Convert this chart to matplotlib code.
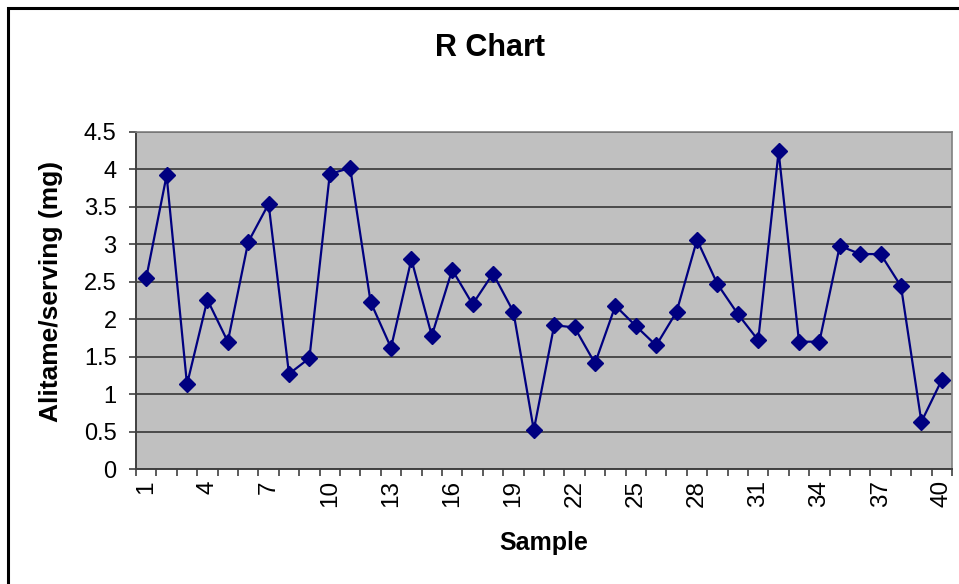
import matplotlib
matplotlib.use("Agg")
import matplotlib.pyplot as plt
from matplotlib.patches import Rectangle
import numpy as np

samples = list(range(1, 41))
r_values = [2.55, 3.92, 1.13, 2.26, 1.70, 3.03, 3.54, 1.27, 1.48, 3.94,
            4.02, 2.23, 1.62, 2.80, 1.78, 2.66, 2.20, 2.61, 2.10, 0.52,
            1.92, 1.89, 1.41, 2.18, 1.91, 1.65, 2.10, 3.06, 2.47, 2.07,
            1.72, 4.24, 1.70, 1.70, 2.98, 2.87, 2.87, 2.44, 0.63, 1.19]
x_labels = list(range(1, 41, 3))
y_ticks = [0, 0.5, 1, 1.5, 2, 2.5, 3, 3.5, 4, 4.5]

plt.rcParams['font.family'] = ['Liberation Sans', 'DejaVu Sans']

W, H = 959, 584
fig = plt.figure(figsize=(W / 100, H / 100), dpi=100)

# marco exterior del gráfico
fig.patches.append(Rectangle((7.5 / W, -0.1), 1.2, 1 - 7.5 / H + 0.1,
                             transform=fig.transFigure, fill=False,
                             edgecolor='black', linewidth=2.2))

ax = fig.add_axes([136 / W, (H - 469) / H, 816 / W, 337 / H])
ax.set_facecolor('#C0C0C0')

ax.plot(samples, r_values, color='#000080', linewidth=1.6,
        marker='D', markersize=8, markerfacecolor='#000080',
        markeredgecolor='#000080', zorder=3)

ax.set_xlim(0.5, 40.5)
ax.set_ylim(0, 4.5)

# eje Y
ax.set_yticks(y_ticks)
ax.set_yticklabels([f"{v:g}" for v in y_ticks], fontsize=17)
ax.yaxis.grid(True, color='#4a4a4a', linewidth=1.4)
ax.set_axisbelow(True)

# eje X: marcas entre categorías, etiquetas cada 3
ax.set_xticks(np.arange(0.5, 41, 1))
ax.set_xticklabels([])
ax.set_xticks(x_labels, minor=True)
ax.set_xticklabels([str(v) for v in x_labels], minor=True, rotation=90,
                   fontsize=17.5)
ax.tick_params(axis='x', which='minor', length=0, pad=8)
ax.tick_params(axis='both', which='major', length=5, width=1.2,
               color='#404040', direction='out')
ax.tick_params(axis='y', pad=9)

for side in ['top', 'right']:
    ax.spines[side].set_color('#808080')
    ax.spines[side].set_linewidth(1.2)
for side in ['left', 'bottom']:
    ax.spines[side].set_color('#404040')
    ax.spines[side].set_linewidth(1.4)

fig.text(490 / W, 1 - 48 / H, 'R Chart', ha='center', va='center',
         fontsize=22, fontweight='bold')
fig.text(51 / W, 1 - 291 / H, 'Alitame/serving (mg)', ha='center',
         va='center', rotation=90, fontsize=19, fontweight='bold')
fig.text(544 / W, 1 - 543 / H, 'Sample', ha='center', va='center',
         fontsize=18, fontweight='bold')

fig.savefig('out.png', dpi=100)
